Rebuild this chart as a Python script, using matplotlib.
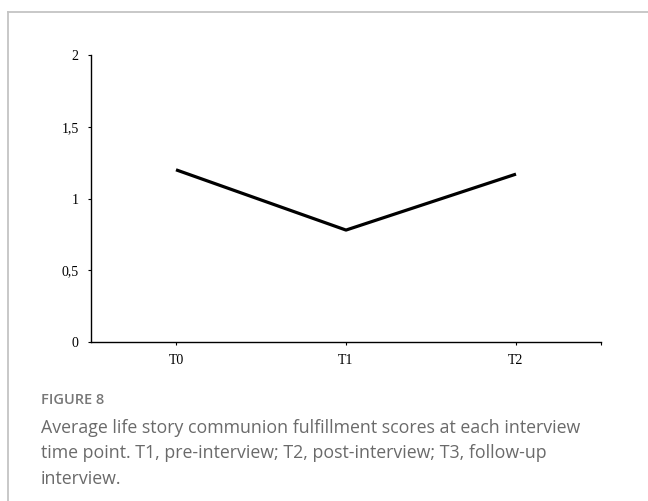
import matplotlib
matplotlib.use("Agg")
import matplotlib.pyplot as plt
from matplotlib.lines import Line2D

# Data
time_points = ['T0', 'T1', 'T2']
scores = [1.20, 0.78, 1.17]
y_ticks = [0, 0.5, 1, 1.5, 2]
y_tick_labels = ['0', '0,5', '1', '1,5', '2']

caption_title = "FIGURE 8"
caption_text = ("Average life story communion fulfillment scores at each interview\n"
                "time point. T1, pre-interview; T2, post-interview; T3, follow-up\n"
                "interview.")

fig = plt.figure(figsize=(6.48, 5.01), dpi=100)
W, H = 648, 501

ax = fig.add_axes([91 / W, 1 - 342 / H, 510 / W, 287 / H])
x = list(range(len(time_points)))
ax.plot(x, scores, color='black', linewidth=2.3, solid_capstyle='butt')

ax.set_xlim(-0.5, len(time_points) - 0.5)
ax.set_ylim(0, 2)
ax.set_xticks(x)
ax.set_xticklabels(time_points)
ax.set_xticks([len(time_points) - 0.5], minor=True)
ax.set_yticks(y_ticks)
ax.set_yticklabels(y_tick_labels)

for s in ['top', 'right']:
    ax.spines[s].set_visible(False)
for s in ['left', 'bottom']:
    ax.spines[s].set_linewidth(1.0)
    ax.spines[s].set_color('black')

ax.tick_params(axis='both', which='both', direction='out', length=2.5, width=0.8,
               labelsize=10)
ax.tick_params(axis='y', pad=6.5)
ax.tick_params(axis='x', pad=6.5)
for lbl in ax.get_xticklabels() + ax.get_yticklabels():
    lbl.set_fontfamily('Liberation Serif')

# Gray frame around the figure (left and top edges visible)
frame_col = '#c4c4c4'
fig.add_artist(Line2D([8 / W, 8 / W], [0, 1 - 12 / H], transform=fig.transFigure,
                      color=frame_col, linewidth=1.3))
fig.add_artist(Line2D([8 / W, 1], [1 - 12 / H, 1 - 12 / H], transform=fig.transFigure,
                      color=frame_col, linewidth=1.3))

# Caption
fig.text(41 / W, 1 - 400 / H, caption_title, fontsize=10.5, color='#777777',
         family='Open Sans', fontweight='semibold', va='center', ha='left')
fig.text(41 / W, 1 - 419 / H, caption_text, fontsize=12.8, color='#6a6a6a',
         family='Open Sans', va='top', ha='left', linespacing=1.52)

fig.savefig('out.png', dpi=100)
